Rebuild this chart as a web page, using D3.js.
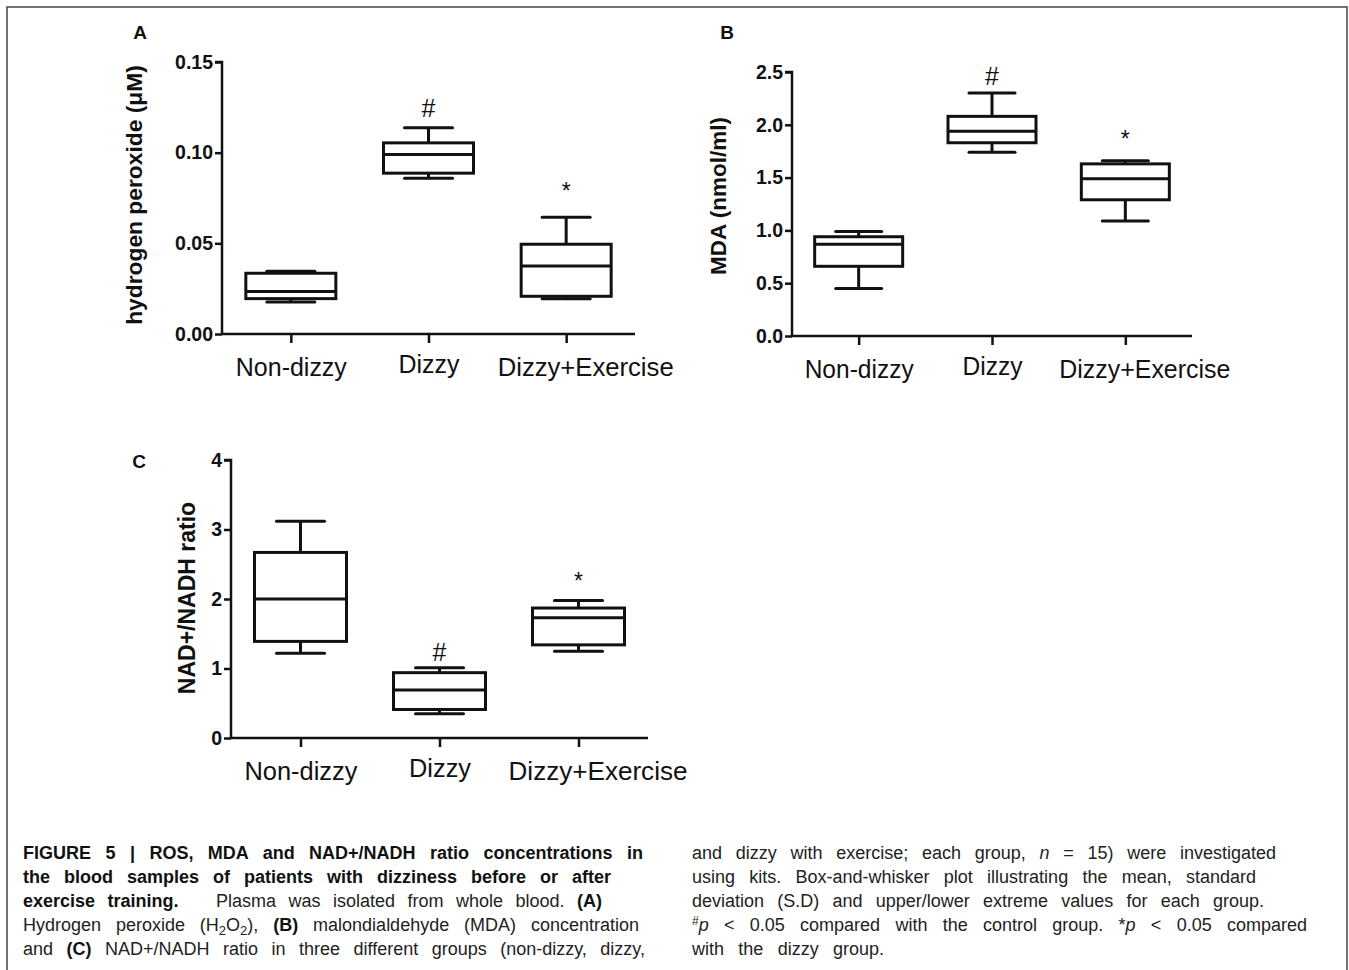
<!DOCTYPE html>
<html>
<head>
<meta charset="utf-8">
<script src="https://cdn.jsdelivr.net/npm/d3@7/dist/d3.min.js"></script>
<style>
  body { margin:0; background:#fff; }
  #wrap { position:relative; width:1349px; height:970px; overflow:hidden; }
  svg { position:absolute; left:0; top:0; }
  .cap { position:absolute; font-family:"Liberation Sans", Arial, sans-serif; font-size:18px; color:#222;
         white-space:nowrap; line-height:20px; height:20px; }
  .just { text-align:justify; text-align-last:justify; }
  .cap b { font-weight:bold; color:#111; }
  .lo { font-size:13px; position:relative; top:4px; line-height:0; }
  .hi { font-size:12px; position:relative; top:-6px; line-height:0; }
</style>
</head>
<body>
<div id="wrap"></div>
<script>
// groups on every panel
var groups = ["Non-dizzy", "Dizzy", "Dizzy+Exercise"];

// box stats: [min, q1, median, q3, max]
var h2o2Stats = [[0.0177, 0.0195, 0.0235, 0.0335, 0.0346],
                 [0.0859, 0.0887, 0.0990, 0.1054, 0.1138],
                 [0.0195, 0.0208, 0.0375, 0.0495, 0.0644]];
var mdaStats  = [[0.45, 0.66, 0.87, 0.94, 0.99],
                 [1.74, 1.83, 1.94, 2.08, 2.30],
                 [1.09, 1.29, 1.49, 1.63, 1.66]];
var nadStats  = [[1.22, 1.39, 2.00, 2.67, 3.12],
                 [0.35, 0.41, 0.69, 0.94, 1.01],
                 [1.25, 1.34, 1.73, 1.87, 1.98]];

// significance marks: [group index, symbol, value where it sits]
var h2o2Marks = [[1, "#", 0.1245], [2, "*", 0.0835]];
var mdaMarks  = [[1, "#", 2.46], [2, "*", 1.94]];
var nadMarks  = [[1, "#", 1.24], [2, "*", 2.38]];

var h2o2Ticks = [0, 0.05, 0.10, 0.15];
var mdaTicks  = [0, 0.5, 1.0, 1.5, 2.0, 2.5];
var nadTicks  = [0, 1, 2, 3, 4];

var W = 1349, H = 970;
var svg = d3.select("#wrap").append("svg").attr("width", W).attr("height", H);

// frame round the figure
svg.append("rect").attr("x", 7).attr("y", 7).attr("width", 1340).attr("height", 980)
  .attr("fill", "none").attr("stroke", "#444").attr("stroke-width", 1.5);

function drawPanel(p){
  var x = d3.scalePoint().domain(groups).range([p.x0, p.x1]).padding(0.5);
  var y = d3.scaleLinear().domain(p.domain).range([p.y0, p.y1]);
  var g = svg.append("g");

  var yAxis = d3.axisLeft(y).tickValues(p.ticks).tickFormat(d3.format(p.fmt)).tickSize(7).tickPadding(2);
  var ya = g.append("g").attr("transform","translate("+p.x0+",0)").call(yAxis);
  ya.select(".domain").attr("stroke","#111").attr("stroke-width",2.5).attr("d","M0,"+p.y0+"V"+p.y1+"H-7");
  ya.selectAll(".tick line").attr("stroke","#111").attr("stroke-width",2.5);
  ya.selectAll(".tick text").attr("font-family","Liberation Sans, Arial, sans-serif")
    .attr("font-size",19.5).attr("font-weight","bold").attr("fill","#111");

  var xAxis = d3.axisBottom(x).tickSize(9).tickPadding(13);
  var xa = g.append("g").attr("transform","translate(0,"+p.y0+")").call(xAxis);
  xa.select(".domain").attr("stroke","#111").attr("stroke-width",2.5).attr("d","M"+p.x0+",0H"+p.x1);
  xa.selectAll(".tick line").attr("stroke","#111").attr("stroke-width",2.5);
  // the middle label sits a little higher in the original
  xa.selectAll(".tick text").attr("font-family","Liberation Sans, Arial, sans-serif")
    .attr("font-size",25.5).attr("fill","#111").attr("dy", function(d,i){ return i==1 ? "0.65em" : "0.8em"; })
    .attr("dx", function(d,i){ return i==2 ? 19 : 0; })
    .attr("textLength", function(d,i){ return p.labW[i]; }).attr("lengthAdjust","spacingAndGlyphs");

  var bw = p.boxW, cw = p.capW;
  var box = g.selectAll(".bx").data(p.stats).enter().append("g")
    .attr("transform", function(d,i){ return "translate("+x(groups[i])+",0)"; });
  var st = {stroke:"#111", "stroke-width":3, fill:"none"};
  function styl(s){ for (var k in st) s.attr(k, st[k]); return s; }
  styl(box.append("line")).attr("x1",0).attr("x2",0).attr("y1",function(d){return y(d[0]);}).attr("y2",function(d){return y(d[1]);});
  styl(box.append("line")).attr("x1",0).attr("x2",0).attr("y1",function(d){return y(d[3]);}).attr("y2",function(d){return y(d[4]);});
  styl(box.append("line")).attr("x1",-cw/2).attr("x2",cw/2).attr("y1",function(d){return y(d[0]);}).attr("y2",function(d){return y(d[0]);}).attr("stroke-linecap","round");
  styl(box.append("line")).attr("x1",-cw/2).attr("x2",cw/2).attr("y1",function(d){return y(d[4]);}).attr("y2",function(d){return y(d[4]);}).attr("stroke-linecap","round");
  styl(box.append("rect")).attr("x",-bw/2).attr("width",bw)
    .attr("y",function(d){return y(d[3]);}).attr("height",function(d){return y(d[1])-y(d[3]);})
    .attr("fill","#fff");
  styl(box.append("line")).attr("x1",-bw/2).attr("x2",bw/2).attr("y1",function(d){return y(d[2]);}).attr("y2",function(d){return y(d[2]);});

  g.selectAll(".mk").data(p.marks).enter().append("text")
    .attr("x", function(d){ return x(groups[d[0]]); })
    .attr("y", function(d){ return y(d[2]); })
    .attr("text-anchor","middle").attr("dy", function(d){ return d[1]=="#" ? "0.35em" : "0.7em"; })
    .attr("font-family","Liberation Sans, Arial, sans-serif")
    .attr("font-size", function(d){ return d[1]=="#" ? 25 : 23; })
    .attr("fill","#111")
    .text(function(d){ return d[1]; });

  svg.append("text").attr("transform","translate("+p.titleX+","+p.titleY+") rotate(-90)")
    .attr("text-anchor","middle").attr("dy","0.35em")
    .attr("font-family","Liberation Sans, Arial, sans-serif").attr("font-weight","bold")
    .attr("font-size",p.titleSize).attr("fill","#111").text(p.title);

  svg.append("text").attr("x",p.lx).attr("y",p.ly).attr("dy","0.35em")
    .attr("font-family","Liberation Sans, Arial, sans-serif").attr("font-weight","bold")
    .attr("font-size",19).attr("fill","#111").attr("text-anchor","middle").text(p.letter);
}

drawPanel({x0:222, x1:635, y0:334, y1:62, domain:[0,0.15], ticks:h2o2Ticks, fmt:".2f",
  stats:h2o2Stats, marks:h2o2Marks, boxW:90, capW:48, labW:[111, 61, 176],
  title:"hydrogen peroxide (\u03bcM)", titleX:134, titleY:195, titleSize:22.8, letter:"A", lx:140, ly:32});
drawPanel({x0:792, x1:1192, y0:336, y1:72, domain:[0,2.5], ticks:mdaTicks, fmt:".1f",
  stats:mdaStats, marks:mdaMarks, boxW:88, capW:46, labW:[109, 60, 171],
  title:"MDA (nmol/ml)", titleX:718, titleY:196, titleSize:22.5, letter:"B", lx:727, ly:32});
drawPanel({x0:231, x1:648, y0:738, y1:460, domain:[0,4], ticks:nadTicks, fmt:"d",
  stats:nadStats, marks:nadMarks, boxW:92, capW:48, labW:[113, 62, 179],
  title:"NAD+/NADH ratio", titleX:187, titleY:598, titleSize:23, letter:"C", lx:139, ly:461});

// caption lines: [left, top, width, justified, html]
var capLines = [
  [23, 843, 620, true, "<b>FIGURE 5 | ROS, MDA and NAD+/NADH ratio concentrations in</b>"],
  [23, 867, 588, true, "<b>the blood samples of patients with dizziness before or after</b>"],
  [23, 891, 579, true, "<b>exercise training.</b>&nbsp;&nbsp; Plasma was isolated from whole blood. <b>(A)</b>"],
  [23, 915, 616, true, "Hydrogen peroxide (H<span class='lo'>2</span>O<span class='lo'>2</span>), <b>(B)</b> malondialdehyde (MDA) concentration"],
  [23, 939, 622, true, "and <b>(C)</b> NAD+/NADH ratio in three different groups (non-dizzy, dizzy,"],
  [692, 843, 584, true, "and dizzy with exercise; each group, <i>n</i> = 15) were investigated"],
  [692, 867, 564, true, "using kits. Box-and-whisker plot illustrating the mean, standard"],
  [692, 891, 572, true, "deviation (S.D) and upper/lower extreme values for each group."],
  [692, 915, 615, true, "<span class='hi'>#</span><i>p</i> &lt; 0.05 compared with the control group. *<i>p</i> &lt; 0.05 compared"],
  [692, 939, 192, true, "with the dizzy group."]
];
d3.select("#wrap").selectAll("div.cap").data(capLines).enter().append("div")
  .attr("class", function(d){ return d[3] ? "cap just" : "cap"; })
  .style("left", function(d){ return d[0]+"px"; })
  .style("top", function(d){ return d[1]+"px"; })
  .style("width", function(d){ return d[2]+"px"; })
  .html(function(d){ return d[4]; });
</script>
</body>
</html>
